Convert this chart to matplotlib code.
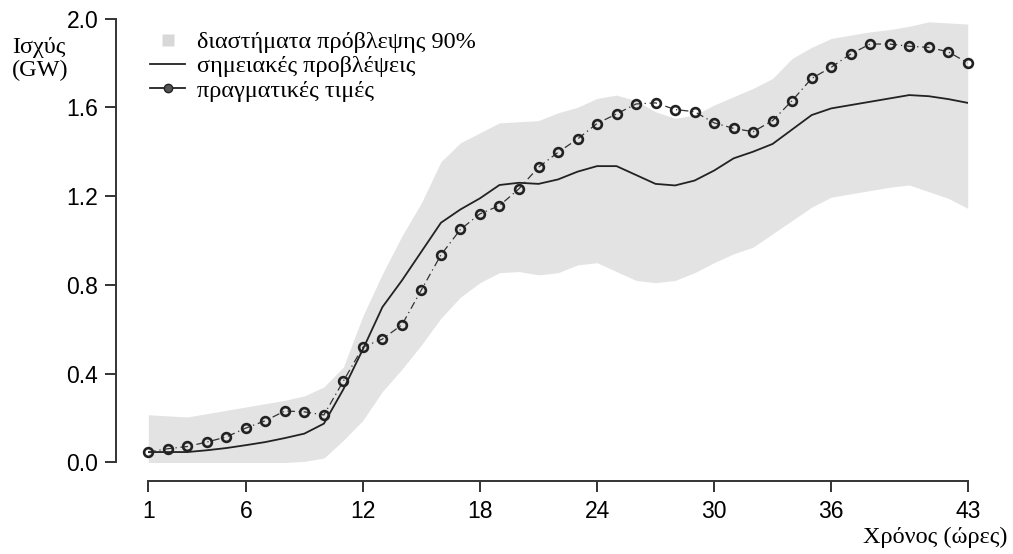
import numpy as np
import matplotlib.pyplot as plt
from matplotlib.lines import Line2D

# hours 1..43
hours = np.arange(1, 44)

# observed wind power (GW)
actual = [0.047, 0.062, 0.072, 0.092, 0.115, 0.155, 0.188, 0.232, 0.228, 0.214,
          0.367, 0.52, 0.556, 0.62, 0.778, 0.935, 1.05, 1.12, 1.157, 1.233,
          1.33, 1.397, 1.457, 1.527, 1.57, 1.615, 1.62, 1.59, 1.58, 1.53,
          1.505, 1.49, 1.54, 1.63, 1.73, 1.78, 1.84, 1.885, 1.885, 1.875,
          1.87, 1.85, 1.80]

# point forecasts (GW)
forecast = [0.047, 0.047, 0.047, 0.055, 0.065, 0.078, 0.092, 0.11, 0.13, 0.175,
            0.33, 0.51, 0.70, 0.82, 0.95, 1.08, 1.14, 1.19, 1.25, 1.26,
            1.255, 1.275, 1.31, 1.335, 1.335, 1.295, 1.255, 1.248, 1.27, 1.315,
            1.37, 1.40, 1.435, 1.50, 1.565, 1.595, 1.61, 1.625, 1.64, 1.655,
            1.65, 1.637, 1.62]

# 90% prediction interval bounds (GW)
upper = [0.215, 0.21, 0.205, 0.22, 0.235, 0.25, 0.265, 0.28, 0.30, 0.34,
         0.43, 0.66, 0.85, 1.02, 1.17, 1.355, 1.44, 1.485, 1.53, 1.535,
         1.54, 1.575, 1.60, 1.64, 1.655, 1.63, 1.58, 1.55, 1.565, 1.61,
         1.648, 1.685, 1.73, 1.82, 1.87, 1.91, 1.925, 1.94, 1.95, 1.965,
         1.985, 1.98, 1.975]
lower = [0.0, 0.0, 0.0, 0.0, 0.0, 0.0, 0.0, 0.0, 0.005, 0.02,
         0.10, 0.19, 0.32, 0.42, 0.53, 0.65, 0.745, 0.81, 0.855, 0.86,
         0.845, 0.855, 0.89, 0.90, 0.86, 0.82, 0.81, 0.82, 0.855, 0.90,
         0.94, 0.97, 1.03, 1.09, 1.15, 1.195, 1.21, 1.225, 1.24, 1.25,
         1.22, 1.19, 1.145]

xticks = [1, 6, 12, 18, 24, 30, 36, 43]
yticks = [0.0, 0.4, 0.8, 1.2, 1.6, 2.0]

legend_labels = ['διαστήματα πρόβλεψης 90%', 'σημειακές προβλέψεις', 'πραγματικές τιμές']

serif = ['Liberation Serif', 'DejaVu Serif']
sans = ['Liberation Sans', 'DejaVu Sans']
band_color = '#e3e3e3'

fig = plt.figure(figsize=(10.13, 5.54), dpi=100)
ax = fig.add_axes([0.1464, 0.1652, 0.8089, 0.8014])

ax.fill_between(hours, lower, upper, color=band_color, linewidth=0, zorder=1)
ax.plot(hours, forecast, color='#222222', linewidth=1.3, zorder=3)
ax.plot(hours, actual, color='#333333', linewidth=0.9, linestyle=(0, (6, 3, 1, 3)),
        marker='o', markersize=6.3, markerfacecolor='none', markeredgecolor='#222222',
        markeredgewidth=1.9, zorder=4, clip_on=False)

ax.set_xlim(1, 43)
ax.set_ylim(0, 2)

for side in ['top', 'right']:
    ax.spines[side].set_visible(False)
ax.spines['left'].set_position(('outward', 23))
ax.spines['bottom'].set_position(('outward', 13))
ax.spines['left'].set_bounds(0, 2)
ax.spines['bottom'].set_bounds(1, 43)
for side in ['left', 'bottom']:
    ax.spines[side].set_linewidth(1.4)
    ax.spines[side].set_color('#333333')

ax.set_xticks(xticks)
ax.set_yticks(yticks)
ax.set_yticklabels([f'{v:.1f}' for v in yticks])
ax.tick_params(axis='both', length=8, width=1.4, color='#333333')
ax.tick_params(axis='x', pad=6)
ax.tick_params(axis='y', pad=5)
for lab in ax.get_xticklabels():
    lab.set_family(sans)
    lab.set_fontsize(16.5)
for lab in ax.get_yticklabels():
    lab.set_family(sans)
    lab.set_fontsize(16.5)

fig.text(12 / 1013, 1 - 59 / 554, 'Ισχύς\n(GW)', ha='left', va='center',
         family=serif, fontsize=17.5, linespacing=1.15)
fig.text(1007 / 1013, 1 - 537 / 554, 'Χρόνος (ώρες)', ha='right', va='center',
         family=serif, fontsize=17.5)

handles = [
    Line2D([], [], linestyle='none', marker='s', markersize=9,
           markerfacecolor='#d8d8d8', markeredgecolor='none'),
    Line2D([], [], color='#222222', linewidth=1.3),
    Line2D([], [], color='#222222', linewidth=1.3, marker='o', markersize=6,
           markerfacecolor='#555555', markeredgecolor='#222222'),
]
leg = fig.legend(handles, legend_labels, loc='upper left',
                 bbox_to_anchor=(150 / 1013, 1 - 31 / 554),
                 frameon=False, prop={'family': serif, 'size': 17.5},
                 handlelength=1.45, handletextpad=0.5, labelspacing=0.1,
                 borderpad=0, borderaxespad=0)

fig.savefig('out.png', dpi=100)
